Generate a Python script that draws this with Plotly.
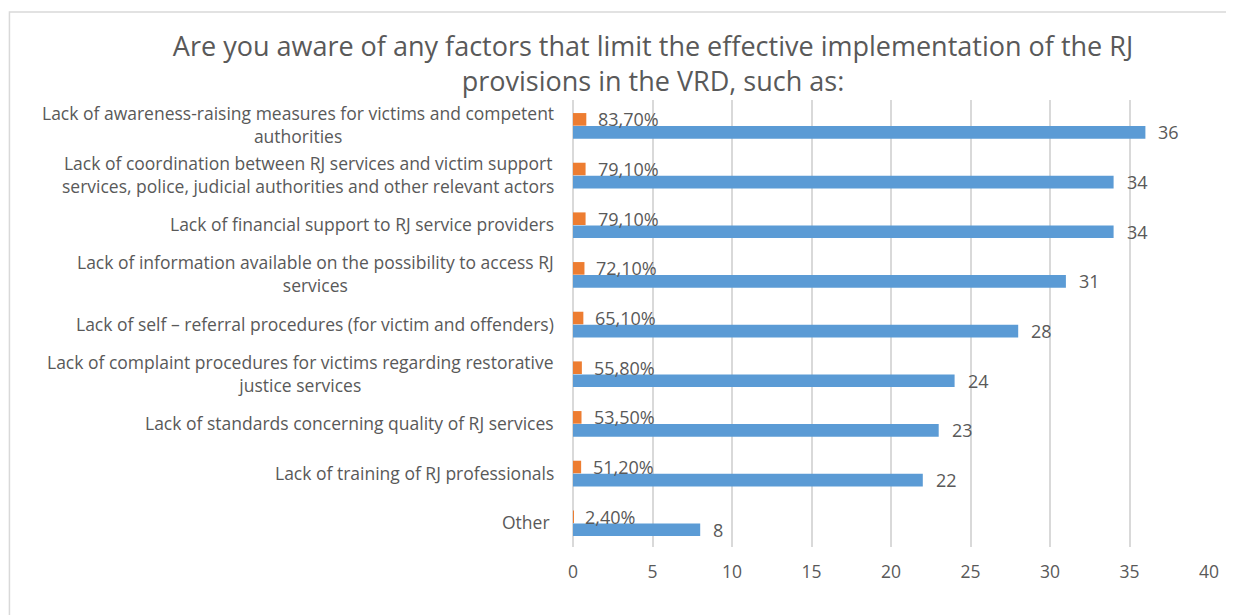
import plotly.graph_objects as go

categories = [
    "Lack of awareness-raising measures for victims and competent<br>authorities",
    "Lack of coordination between RJ services and victim support<br>services, police, judicial authorities and other relevant actors",
    "Lack of financial support to RJ service providers",
    "Lack of information available on the possibility to access RJ<br>services",
    "Lack of self – referral procedures (for victim and offenders)",
    "Lack of complaint procedures for victims regarding restorative<br>justice services",
    "Lack of standards concerning quality of RJ services",
    "Lack of training of RJ professionals",
    "Other",
]
counts = [36, 34, 34, 31, 28, 24, 23, 22, 8]
percent = [83.7, 79.1, 79.1, 72.1, 65.1, 55.8, 53.5, 51.2, 2.4]
percent_labels = ["83,70%", "79,10%", "79,10%", "72,10%", "65,10%", "55,80%", "53,50%", "51,20%", "2,40%"]
x_ticks = [0, 5, 10, 15, 20, 25, 30, 35, 40]

BLUE = "#5B9BD5"
ORANGE = "#ED7D31"
TXT = "#595959"
GRID = "#D9D9D9"
FONT = "Open Sans"

# page body has an 8px margin; layout numbers below compensate
L, R, T, B = 564.5, 33, 91.5, 76
PW = 1234 - L - R
PH = 615 - T - B

fig = go.Figure()
fig.add_trace(go.Bar(
    y=categories, x=[p / 100 for p in percent], orientation="h",
    marker=dict(color=ORANGE, line=dict(width=0)), offset=-0.237, width=0.254,
    hoverinfo="skip", name="%",
))
fig.add_trace(go.Bar(
    y=categories, x=counts, orientation="h",
    marker=dict(color=BLUE, line=dict(width=0)), offset=0.026, width=0.254,
    hoverinfo="skip", name="n",
))

annotations = []
for cat, c, p, pl in zip(categories, counts, percent, percent_labels):
    annotations.append(dict(x=c, y=cat, xref="x", yref="y", text=str(c), showarrow=False,
                            xanchor="left", yanchor="middle", xshift=11, yshift=-7.6,
                            font=dict(family=FONT, size=18, color=TXT)))
    annotations.append(dict(x=p / 100, y=cat, xref="x", yref="y", text=pl, showarrow=False,
                            xanchor="left", yanchor="middle", xshift=10, yshift=5.4,
                            font=dict(family=FONT, size=18, color=TXT)))
    annotations.append(dict(x=0, y=cat, xref="paper", yref="y", text=cat, showarrow=False,
                            xanchor="right", yanchor="middle", align="center",
                            xshift=-21 if cat == "Other" else -17,
                            font=dict(family=FONT, size=17.5, color=TXT)))

fig.update_layout(
    width=1234, height=615,
    margin=dict(l=L, r=R, t=T, b=B, autoexpand=False),
    paper_bgcolor="white", plot_bgcolor="white",
    barmode="overlay", showlegend=False,
    title=dict(
        text="Are you aware of any factors that limit the effective implementation of the RJ<br>provisions in the VRD, such as:",
        x=645 / 1234, xanchor="center", xref="container",
        y=1 - 47.5 / 615, yanchor="top", yref="container",
        font=dict(family=FONT, size=27, color=TXT),
    ),
    xaxis=dict(range=[0, 40], tickvals=x_ticks, showgrid=True, gridcolor=GRID, gridwidth=1.5,
               zeroline=True, zerolinecolor=GRID, zerolinewidth=1.5, showline=False, ticks="",
               ticklabelstandoff=12, tickfont=dict(family=FONT, size=17.5, color=TXT), fixedrange=True),
    yaxis=dict(type="category", range=[8.5, -0.5], showticklabels=False, showgrid=False,
               zeroline=False, showline=False, ticks="", fixedrange=True),
    annotations=annotations,
    shapes=[dict(type="rect", xref="paper", yref="paper",
                 x0=(0.5 - L) / PW, x1=1.2, y0=-0.3, y1=1 + (T - 3.5) / PH,
                 line=dict(color=GRID, width=1.5), fillcolor="rgba(0,0,0,0)", layer="below")],
)

fig.write_html("out.html")
